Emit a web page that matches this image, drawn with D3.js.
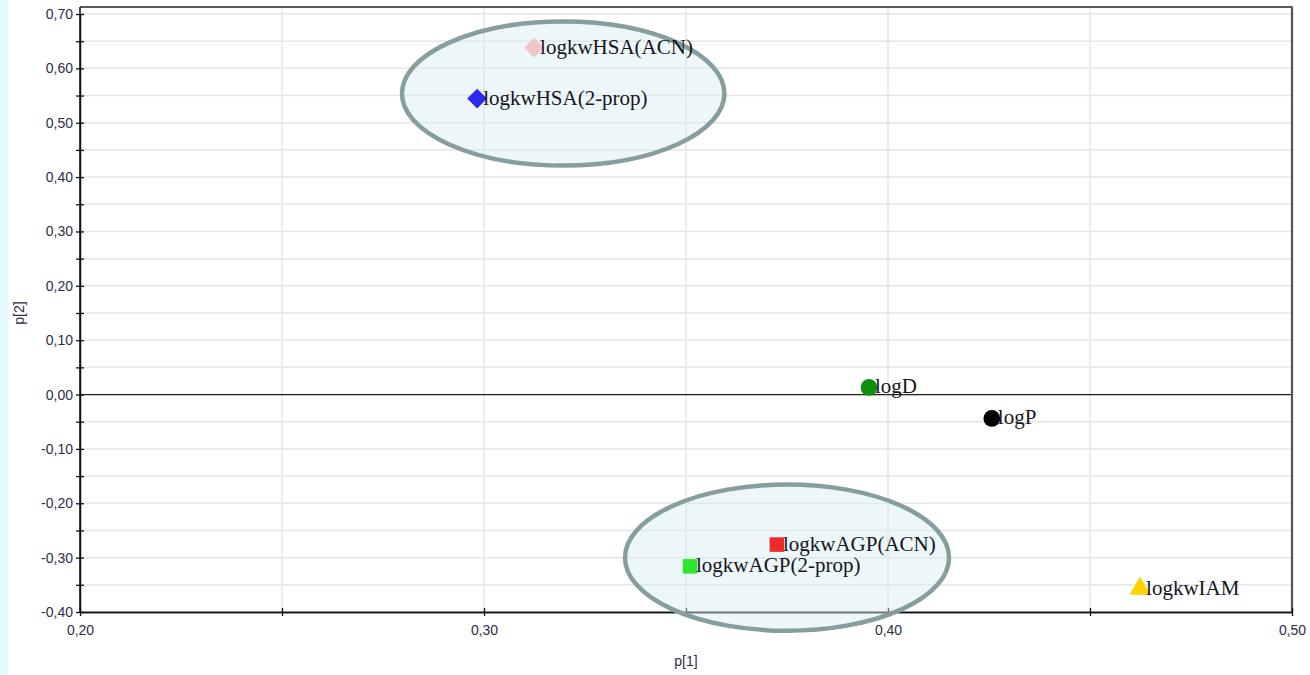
<!DOCTYPE html>
<html>
<head>
<meta charset="utf-8">
<script src="https://cdn.jsdelivr.net/npm/d3@7"></script>
<style>
  html, body { margin: 0; padding: 0; background: #fff; }
  svg { display: block; }
</style>
</head>
<body>
<div id="chart"></div>
<script>
// Loading plot: p[1] vs p[2]
const names  = ["logkwHSA(ACN)", "logkwHSA(2-prop)", "logD", "logP", "logkwAGP(ACN)", "logkwAGP(2-prop)", "logkwIAM"];
const p1     = [0.3124, 0.2983, 0.3953, 0.4257, 0.3725, 0.3510, 0.4624];
const p2     = [0.638, 0.5445, 0.013, -0.044, -0.276, -0.316, -0.357];
const shapes = ["diamond", "diamond", "circle", "circle", "square", "square", "triangle"];
const colors = ["#f3c4cc", "#2b2bf0", "#0f8f0f", "#000000", "#ee2b2b", "#2ee82e", "#ffd200"];

const xTicks = [0.20, 0.30, 0.40, 0.50];
const xMinor = [0.25, 0.35, 0.45];
const yTicks = [-0.40, -0.30, -0.20, -0.10, 0.00, 0.10, 0.20, 0.30, 0.40, 0.50, 0.60, 0.70];
const yMinor = [-0.35, -0.25, -0.15, -0.05, 0.05, 0.15, 0.25, 0.35, 0.45, 0.55, 0.65];

// Grouping ellipses: centre (p1, p2) and radii in data units
const groupCx = [0.3196, 0.3750];
const groupCy = [0.5537, -0.300];
const groupRx = [0.0399, 0.0401];
const groupRy = [0.1325, 0.1345];

const W = 1310, H = 675;
const plotL = 80, plotR = 1292, plotT = 7, plotB = 612;

const svg = d3.select("#chart").append("svg").attr("width", W).attr("height", H);

// left cyan strip
svg.append("rect").attr("x", 0).attr("y", 0).attr("width", 8).attr("height", H).attr("fill", "#e2fbfb");

const x = d3.scaleLinear().domain([0.20, 0.50]).range([plotL, plotR]);
const y = d3.scaleLinear().domain([-0.40, 0.70]).range([plotB, 14]);

// grid
const grid = svg.append("g");
grid.selectAll("line.gx").data(xTicks.concat(xMinor)).join("line")
  .attr("x1", d => x(d)).attr("x2", d => x(d)).attr("y1", plotT).attr("y2", plotB)
  .attr("stroke", "#e6e6e6").attr("stroke-width", 1.5);
grid.selectAll("line.gy").data(yTicks.concat(yMinor)).join("line")
  .attr("x1", plotL).attr("x2", plotR).attr("y1", d => y(d)).attr("y2", d => y(d))
  .attr("stroke", "#e6e6e6").attr("stroke-width", 1.5);

// zero line
svg.append("line").attr("x1", plotL).attr("x2", plotR).attr("y1", y(0)).attr("y2", y(0))
  .attr("stroke", "#222").attr("stroke-width", 1.3);

// frame
svg.append("line").attr("x1", plotL).attr("x2", plotR).attr("y1", plotT).attr("y2", plotT)
  .attr("stroke", "#222").attr("stroke-width", 1.3);
svg.append("line").attr("x1", plotR).attr("x2", plotR).attr("y1", plotT - 0.5).attr("y2", plotB)
  .attr("stroke", "#555").attr("stroke-width", 2.2);

// axes
const tickFont = "Liberation Sans, Arial, sans-serif";
const fmt = d => d3.format(".2f")(d).replace(".", ",").replace("−", "-");

const yAxis = svg.append("g").attr("transform", `translate(${plotL},0)`)
  .call(d3.axisLeft(y).tickValues(yTicks).tickFormat(fmt).tickSize(4).tickSizeOuter(0));
const yMin = svg.append("g").attr("transform", `translate(${plotL},0)`)
  .call(d3.axisLeft(y).tickValues(yMinor).tickFormat("").tickSize(4).tickSizeOuter(0));
const xAxis = svg.append("g").attr("transform", `translate(0,${plotB})`)
  .call(d3.axisBottom(x).tickValues(xTicks).tickFormat(fmt).tickSize(4).tickSizeOuter(0));
const xMin = svg.append("g").attr("transform", `translate(0,${plotB})`)
  .call(d3.axisBottom(x).tickValues(xMinor).tickFormat("").tickSize(4).tickSizeOuter(0));

[yAxis, yMin, xAxis, xMin].forEach(g => {
  g.select(".domain").attr("stroke", "#111").attr("stroke-width", 1.5);
  g.selectAll(".tick line").attr("stroke", "#111").attr("stroke-width", 1.3);
  g.selectAll("text").attr("font-family", tickFont).attr("font-size", 14).attr("fill", "#2e2e44");
});
// ticks cross the axis line
[yAxis, yMin].forEach(g => g.selectAll(".tick line").attr("x1", 4));
[xAxis, xMin].forEach(g => g.selectAll(".tick line").attr("y1", -4));
yAxis.selectAll("text").attr("x", -7);
xAxis.selectAll("text").attr("y", 13);
yAxis.select(".domain").attr("d", `M0,${plotT}V${plotB}`);

// axis titles
svg.append("text").attr("x", x(0.35)).attr("y", 666).attr("text-anchor", "middle")
  .attr("font-family", tickFont).attr("font-size", 14).attr("fill", "#2e2e44").text("p[1]");
svg.append("text").attr("transform", `translate(24,${y(0.15)}) rotate(-90)`).attr("text-anchor", "middle")
  .attr("font-family", tickFont).attr("font-size", 14).attr("fill", "#2e2e44").text("p[2]");

// grouping ellipses
svg.append("g").selectAll("ellipse").data(groupCx).join("ellipse")
  .attr("cx", (d, i) => x(groupCx[i]))
  .attr("cy", (d, i) => y(groupCy[i]))
  .attr("rx", (d, i) => x(groupCx[i] + groupRx[i]) - x(groupCx[i]))
  .attr("ry", (d, i) => y(groupCy[i] - groupRy[i]) - y(groupCy[i]))
  .attr("fill", "rgba(214,234,240,0.45)")
  .attr("stroke", "#879e9f").attr("stroke-width", 4.5);

// markers
const symType = { diamond: d3.symbolDiamond2, circle: d3.symbolCircle, square: d3.symbolSquare2, triangle: d3.symbolTriangle2 };
const symSize = { diamond: 250, circle: 220, square: 270, triangle: 320 };
const pts = svg.append("g");
names.forEach((n, i) => {
  const s = shapes[i];
  const p = d3.symbol().type(symType[s]).size(symSize[s])();
  pts.append("path").attr("d", p)
    .attr("transform", `translate(${x(p1[i])},${y(p2[i])})`)
    .attr("fill", colors[i]);
});
// labels
names.forEach((n, i) => {
  pts.append("text").attr("x", x(p1[i]) + 6).attr("y", y(p2[i]) + 6)
    .attr("font-family", "Liberation Serif, Times New Roman, serif").attr("font-size", 21)
    .attr("fill", "#151520").text(n);
});
</script>
</body>
</html>
